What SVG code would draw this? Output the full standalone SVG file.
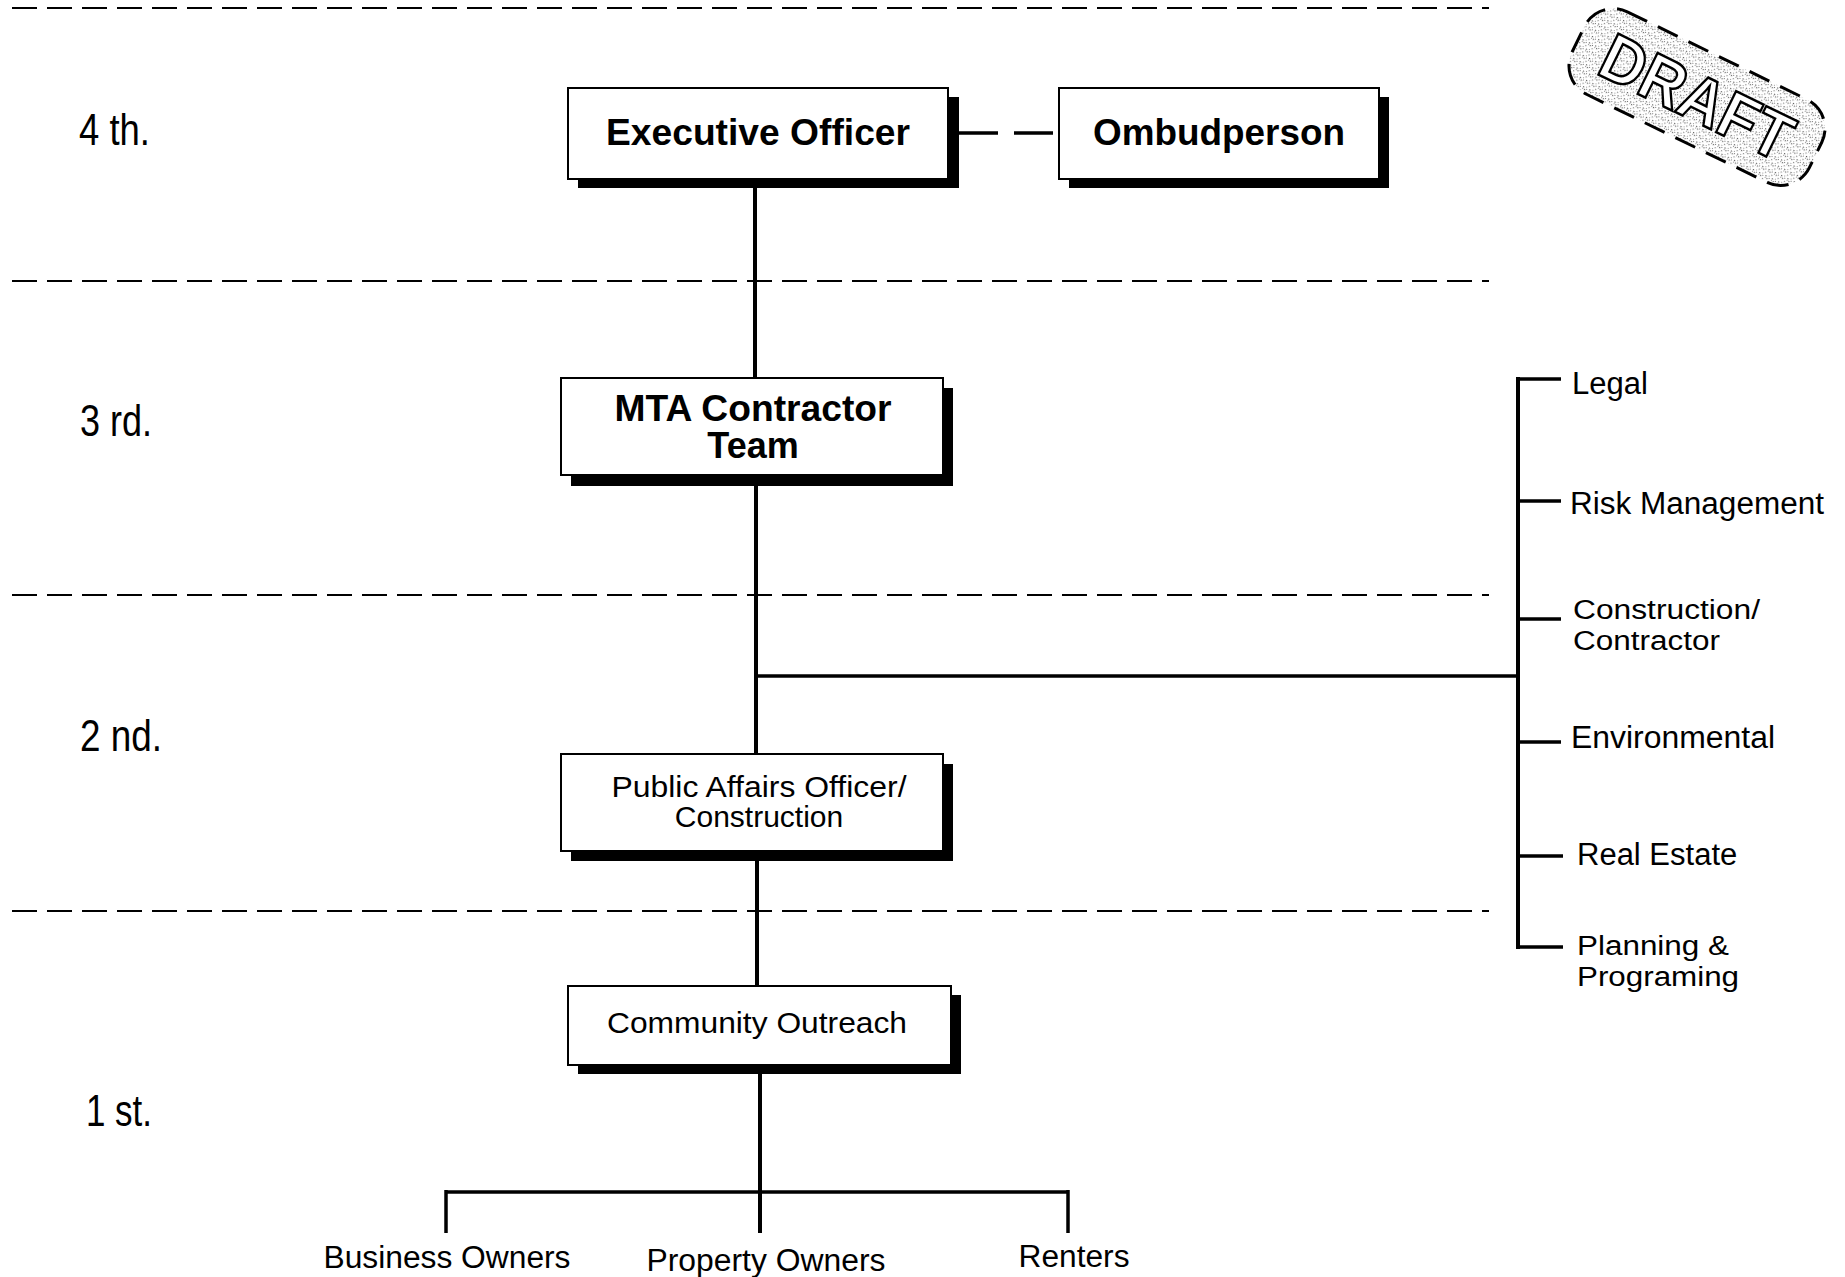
<svg xmlns="http://www.w3.org/2000/svg" width="1845" height="1277" viewBox="0 0 1845 1277">
<style>
.bg{fill:#fff}
.lvl{stroke:#000;stroke-width:2;stroke-dasharray:25 10;fill:none}
.lvlt{font-family:"Liberation Sans",Arial,sans-serif;font-size:45px;fill:#000}
.box{fill:#fff;stroke:#000;stroke-width:2}
.shadow{fill:#000}
.bt{font-family:"Liberation Sans",Arial,sans-serif;font-weight:bold;font-size:36px;fill:#000;text-anchor:middle}
.rt{font-family:"Liberation Sans",Arial,sans-serif;font-size:30px;fill:#000;text-anchor:middle}
.side{font-family:"Liberation Sans",Arial,sans-serif;font-size:31px;fill:#000}
.side2{font-family:"Liberation Sans",Arial,sans-serif;font-size:27px;fill:#000}
.bot{font-family:"Liberation Sans",Arial,sans-serif;font-size:31px;fill:#000;text-anchor:middle}
.ln{stroke:#000;stroke-width:4;fill:none}
.ln3{stroke:#000;stroke-width:3.5;fill:none}
</style>
<defs>
<pattern id="speck" width="7" height="7" patternUnits="userSpaceOnUse">
<rect x="0" y="0" width="1.2" height="1.2" fill="#666"/>
<rect x="3" y="2" width="1.2" height="1.2" fill="#888"/>
<rect x="5" y="5" width="1.2" height="1.2" fill="#555"/>
<rect x="1" y="4" width="1" height="1" fill="#999"/>
<rect x="5" y="0" width="1" height="1" fill="#999"/>
<rect x="2" y="6" width="1" height="1" fill="#777"/>
</pattern>
</defs>
<rect class="bg" x="0" y="0" width="1845" height="1277"/>

<g id="levels">
<line class="lvl" x1="12" y1="8" x2="1489" y2="8"/>
<line class="lvl" x1="12" y1="281" x2="1489" y2="281"/>
<line class="lvl" x1="12" y1="595" x2="1489" y2="595"/>
<line class="lvl" x1="12" y1="911" x2="1489" y2="911"/>
<text class="lvlt" x="79" y="145" textLength="71" lengthAdjust="spacingAndGlyphs">4 th.</text>
<text class="lvlt" x="80" y="436" textLength="72" lengthAdjust="spacingAndGlyphs">3 rd.</text>
<text class="lvlt" x="80" y="751" textLength="82" lengthAdjust="spacingAndGlyphs">2 nd.</text>
<text class="lvlt" x="86" y="1126" textLength="66" lengthAdjust="spacingAndGlyphs">1 st.</text>
</g>

<g id="connectors">
<line class="ln" x1="755" y1="179" x2="755" y2="378"/>
<line class="ln" x1="756" y1="475" x2="756" y2="754"/>
<line class="ln3" x1="756" y1="676" x2="1518" y2="676"/>
<line class="ln" x1="1518" y1="377" x2="1518" y2="949"/>
<line class="ln3" x1="1516" y1="379" x2="1561" y2="379"/>
<line class="ln3" x1="1518" y1="501" x2="1561" y2="501"/>
<line class="ln3" x1="1518" y1="619" x2="1561" y2="619"/>
<line class="ln3" x1="1518" y1="742" x2="1561" y2="742"/>
<line class="ln3" x1="1518" y1="856" x2="1563" y2="856"/>
<line class="ln3" x1="1516" y1="947" x2="1563" y2="947"/>
<line class="ln" x1="757" y1="851" x2="757" y2="986"/>
<line class="ln" x1="760" y1="1065" x2="760" y2="1233"/>
<line class="ln3" x1="446" y1="1192" x2="1068" y2="1192"/>
<line class="ln3" x1="446" y1="1190" x2="446" y2="1233"/>
<line class="ln3" x1="1068" y1="1190" x2="1068" y2="1233"/>
<line class="ln3" x1="959" y1="133" x2="1059" y2="133" stroke-dasharray="39 16"/>
</g>

<g id="exec">
<rect class="shadow" x="578" y="97" width="381" height="91"/>
<rect class="box" x="568" y="88" width="380" height="91"/>
<text class="bt" x="758" y="145" textLength="304" lengthAdjust="spacingAndGlyphs">Executive Officer</text>
</g>
<g id="ombud">
<rect class="shadow" x="1069" y="97" width="320" height="91"/>
<rect class="box" x="1059" y="88" width="320" height="91"/>
<text class="bt" x="1219" y="145" textLength="252" lengthAdjust="spacingAndGlyphs">Ombudperson</text>
</g>
<g id="mta">
<rect class="shadow" x="571" y="388" width="382" height="98"/>
<rect class="box" x="561" y="378" width="382" height="97"/>
<text class="bt" x="753" y="421" font-size="34" textLength="277" lengthAdjust="spacingAndGlyphs">MTA Contractor</text>
<text class="bt" x="753" y="458" font-size="34">Team</text>
</g>
<g id="pao">
<rect class="shadow" x="571" y="764" width="382" height="97"/>
<rect class="box" x="561" y="754" width="382" height="97"/>
<text class="rt" x="759" y="797" textLength="295" lengthAdjust="spacingAndGlyphs">Public Affairs Officer/</text>
<text class="rt" x="759" y="827">Construction</text>
</g>
<g id="community">
<rect class="shadow" x="578" y="995" width="383" height="79"/>
<rect class="box" x="568" y="986" width="383" height="79"/>
<text class="rt" x="757" y="1033" textLength="300" lengthAdjust="spacingAndGlyphs">Community Outreach</text>
</g>

<g id="legal"><text class="side" x="1572" y="394">Legal</text></g>
<g id="risk"><text class="side" x="1570" y="514" textLength="254" lengthAdjust="spacingAndGlyphs">Risk Management</text></g>
<g id="construction"><text class="side2" x="1573" y="619" textLength="187" lengthAdjust="spacingAndGlyphs">Construction/</text><text class="side2" x="1573" y="650" textLength="147" lengthAdjust="spacingAndGlyphs">Contractor</text></g>
<g id="environmental"><text class="side" x="1571" y="748" textLength="204" lengthAdjust="spacingAndGlyphs">Environmental</text></g>
<g id="realestate"><text class="side" x="1577" y="865">Real Estate</text></g>
<g id="planning"><text class="side2" x="1577" y="955" textLength="152" lengthAdjust="spacingAndGlyphs">Planning &amp;</text><text class="side2" x="1577" y="986" textLength="162" lengthAdjust="spacingAndGlyphs">Programing</text></g>

<g id="business"><text class="bot" x="447" y="1268" textLength="247" lengthAdjust="spacingAndGlyphs">Business Owners</text></g>
<g id="property"><text class="bot" x="766" y="1271" textLength="239" lengthAdjust="spacingAndGlyphs">Property Owners</text></g>
<g id="renters"><text class="bot" x="1074" y="1267" textLength="111" lengthAdjust="spacingAndGlyphs">Renters</text></g>

<g id="draft" transform="translate(1697,97) rotate(26)">
<rect x="-132" y="-46" width="264" height="92" rx="32" fill="url(#speck)" stroke="#000" stroke-width="3" stroke-dasharray="22 12"/>
<text x="0" y="23" font-family="Liberation Sans,Arial,sans-serif" font-weight="bold" font-size="66" fill="#fff" stroke="#000" stroke-width="2.5" text-anchor="middle" textLength="205" lengthAdjust="spacingAndGlyphs">DRAFT</text>
</g>
</svg>
